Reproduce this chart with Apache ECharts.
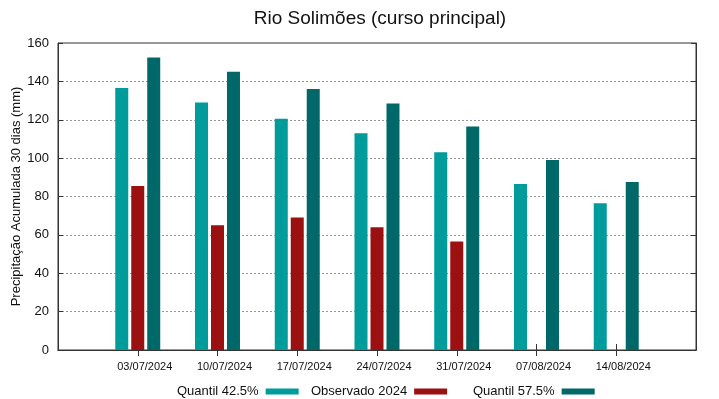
<!DOCTYPE html>
<html>
<head>
<meta charset="utf-8">
<script src="https://cdn.jsdelivr.net/npm/echarts@6/dist/echarts.min.js"></script>
<style>
  html, body { margin: 0; padding: 0; background: #fff; }
  #chart { width: 719px; height: 399px; }
</style>
</head>
<body>
<div id="chart"></div>
<script>
// datas das semanas (com posicoes vazias nas pontas, estilo gnuplot)
var datas = ['', '03/07/2024', '10/07/2024', '17/07/2024', '24/07/2024', '31/07/2024', '07/08/2024', '14/08/2024', ''];
var quantil425 = ['-', 136.5, 129, 120.5, 113, 103, 86.5, 76.5, '-'];
var observado = ['-', 85.5, 65, 69, 64, 56.5, '-', '-', '-'];
var quantil575 = ['-', 152.5, 145, 136, 128.5, 116.5, 99, 87.5, '-'];

var cores = ['#009b9b', '#9b1010', '#006868'];
var fonte = 'Liberation Sans, Arial, sans-serif';

var myChart = echarts.init(document.getElementById('chart'));

function legenda(nome, left) {
    return {
        data: [nome],
        left: left,
        top: 380,
        align: 'right',
        icon: 'rect',
        itemWidth: 33,
        itemHeight: 6,
        textStyle: { fontFamily: fonte, fontSize: 13, color: '#111', padding: [0, 2, 0, 0] },
        selectedMode: false
    };
}

// so marca os ticks das datas, nao das pontas
function semPontas(i) {
    return i > 0 && i < datas.length - 1;
}

var option = {
    animation: false,
    backgroundColor: '#fff',
    title: {
        text: 'Rio Solimões (curso principal)',
        left: 375,
        textAlign: 'center',
        top: 4,
        textStyle: { fontFamily: fonte, fontSize: 19, fontWeight: 'normal', color: '#111' }
    },
    legend: [
        legenda('Quantil 42.5%', 172),
        legenda('Observado 2024', 306),
        legenda('Quantil 57.5%', 468)
    ],
    grid: {
        left: 58, right: 23, top: 43, bottom: 49,
        outerBoundsMode: 'none',
        containLabel: false,
        show: true, borderColor: '#333', borderWidth: 1
    },
    xAxis: [{
        type: 'category',
        data: datas,
        boundaryGap: false,
        axisLine: { lineStyle: { color: '#333' } },
        axisTick: { inside: true, length: 6, interval: semPontas, lineStyle: { color: '#333' } },
        axisLabel: { fontFamily: fonte, fontSize: 11, color: '#111', margin: 11, interval: 0, padding: [0, 0, 0, 14] },
        splitLine: { show: false }
    }, {
        type: 'category',
        data: datas,
        position: 'top',
        boundaryGap: false,
        axisLine: { lineStyle: { color: '#333' } },
        axisTick: { inside: true, length: 6, interval: semPontas, lineStyle: { color: '#333' } },
        axisLabel: { show: false }
    }],
    yAxis: [{
        type: 'value',
        min: 0, max: 160, interval: 20,
        name: 'Precipitação Acumulada 30 dias (mm)',
        nameLocation: 'middle',
        nameGap: 35,
        nameMoveOverlap: false,
        nameTextStyle: { fontFamily: fonte, fontSize: 13, color: '#111' },
        axisLine: { show: true, lineStyle: { color: '#333' } },
        axisTick: { show: true, inside: true, length: 5, lineStyle: { color: '#333' } },
        axisLabel: { fontFamily: fonte, fontSize: 13, color: '#111', margin: 9 },
        splitLine: { show: true, lineStyle: { color: '#999', type: [2, 2], width: 1 } }
    }, {
        type: 'value',
        min: 0, max: 160, interval: 20,
        position: 'right',
        axisLine: { show: true, lineStyle: { color: '#333' } },
        axisTick: { show: true, inside: true, length: 5, lineStyle: { color: '#333' } },
        axisLabel: { show: false },
        splitLine: { show: false }
    }],
    series: [{
        name: 'Quantil 42.5%',
        type: 'bar',
        data: quantil425,
        barWidth: 13,
        barGap: '23%',
        itemStyle: { color: cores[0] }
    }, {
        name: 'Observado 2024',
        type: 'bar',
        data: observado,
        barWidth: 13,
        barGap: '23%',
        itemStyle: { color: cores[1] }
    }, {
        name: 'Quantil 57.5%',
        type: 'bar',
        data: quantil575,
        barWidth: 13,
        barGap: '23%',
        itemStyle: { color: cores[2] }
    }]
};

myChart.setOption(option);
</script>
</body>
</html>
